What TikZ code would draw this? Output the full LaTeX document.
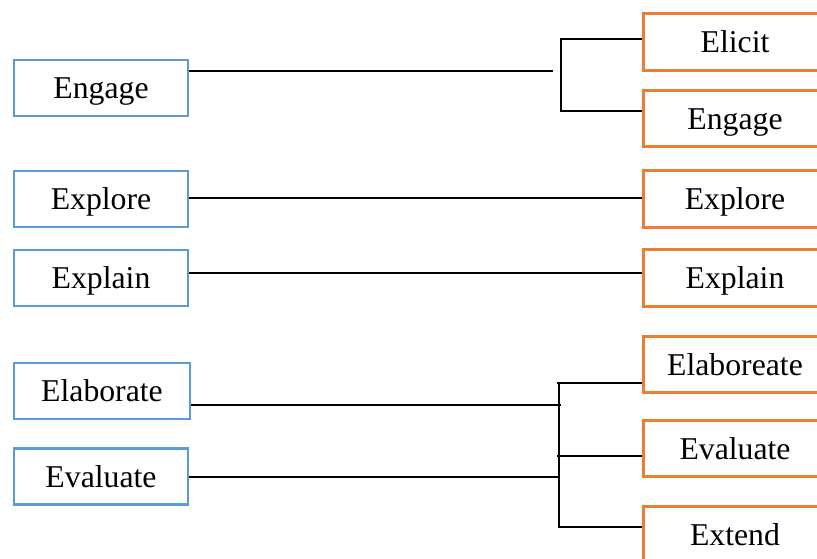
\documentclass[tikz,border=0pt]{standalone}
\usepackage{fontspec}
\setmainfont{Liberation Serif}
\definecolor{boxblue}{HTML}{5B9BD5}
\definecolor{boxorange}{HTML}{ED7D31}
\begin{document}
\begin{tikzpicture}[x=0.75pt,y=-0.75pt,
  txt/.style={font=\fontsize{23.8pt}{28pt}\selectfont,text height=17.5pt,text depth=1.7pt},
  lbox/.style={txt,draw=boxblue,line width=2pt,minimum width=130.5pt,minimum height=42pt,inner sep=0pt},
  rbox/.style={txt,draw=boxorange,line width=2.2pt,minimum width=137pt,minimum height=42.5pt,inner sep=0pt},
  conn/.style={draw=black,line width=0.8pt}]
\clip (0,0) rectangle (817,559);
\fill[white] (0,0) rectangle (817,559);
% left boxes
\node[lbox] (L1) at (101,88) {Engage};
\node[lbox] (L2) at (101,199) {Explore};
\node[lbox] (L3) at (101,278) {Explain};
\node[lbox,minimum width=132pt] (L4) at (102,391) {Elaborate};
\node[lbox] (L5) at (101,476.5) {Evaluate};
% right boxes
\node[rbox] (R1) at (735,42) {Elicit};
\node[rbox] (R2) at (735,118.5) {Engage};
\node[rbox] (R3) at (735,199) {Explore};
\node[rbox] (R4) at (735,278) {Explain};
\node[rbox] (R5) at (735,364.5) {Elaboreate};
\node[rbox] (R6) at (735,448.5) {Evaluate};
\node[rbox] (R7) at (735,535) {Extend};
% junction coordinates
\coordinate (j1) at (553,71);
\coordinate (b1) at (561,39);
\coordinate (b2) at (561,111);
\coordinate (c1) at (559,383);
\coordinate (c2) at (557,456);
\coordinate (c3) at (559,527);
\coordinate (j4) at (561,405);
\coordinate (j5) at (559,477);
% connectors
\draw[conn] (L1.east |- j1) -- (j1);
\draw[conn] (R1.west |- b1) -- (b1) -- (b2) -- (R2.west |- b2);
\draw[conn] (L2.east |- 0,198) -- (R3.west |- 0,198);
\draw[conn] (L3.east |- 0,273) -- (R4.west |- 0,273);
\draw[conn] (R5.west |- c1) -- (c1 -| 557,0) ;
\draw[conn] (c1) -- (c3) -- (R7.west |- c3);
\draw[conn] (c2) -- (R6.west |- c2);
\draw[conn] (L4.east |- j4) -- (j4);
\draw[conn] (L5.east |- j5) -- (j5);
\end{tikzpicture}
\end{document}
